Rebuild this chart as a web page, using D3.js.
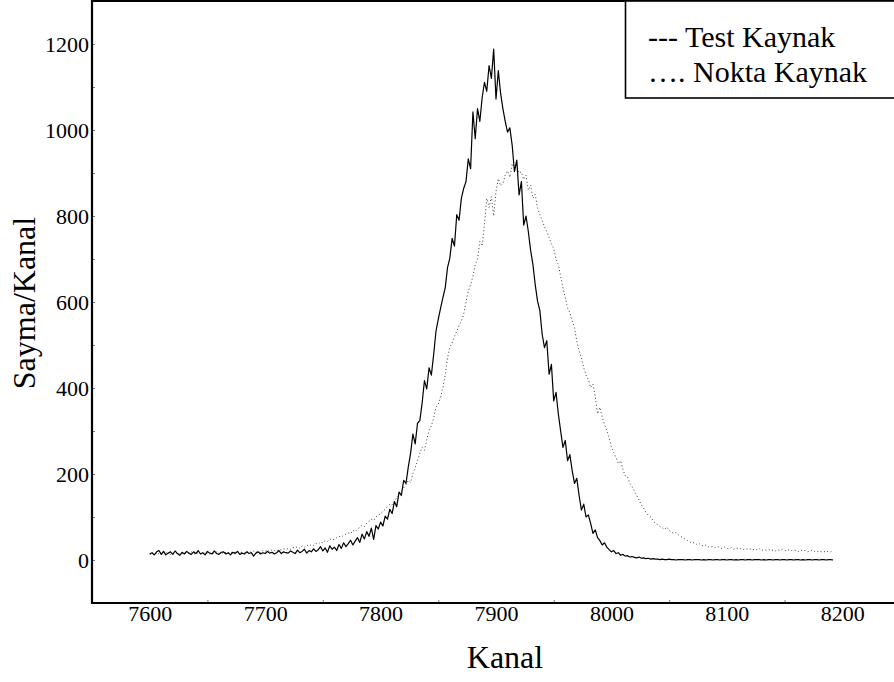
<!DOCTYPE html>
<html>
<head>
<meta charset="utf-8">
<script src="https://cdn.jsdelivr.net/npm/d3@7"></script>
<style>
  body { margin: 0; background: #fff; }
  text { font-family: "Liberation Serif", "Times New Roman", serif; fill: #000; }
</style>
</head>
<body>
<div class="chart"></div>
<script>
var svgWidth = 894;
var svgHeight = 682;

// channels 7600..8192, step 2
var chStart = 7600;
var chStep = 2;

// Test Kaynak (solid)
var testCounts = [
  14,17,12,19,22,13,20,12,16,19,
  13,21,15,11,18,14,20,16,13,19,
  15,22,14,17,12,20,16,14,21,15,
  13,18,19,14,17,12,18,15,20,13,
  16,14,19,15,17,9,16,19,14,17,
  15,20,16,18,14,17,22,15,19,17,
  16,21,18,15,23,17,20,25,16,22,
  19,26,20,24,31,21,28,18,33,25,
  30,22,36,27,40,31,38,46,35,44,
  52,41,60,49,66,55,74,48,80,72,
  88,79,102,95,118,108,136,124,158,150,
  185,178,216,248,293,270,318,324,365,417,
  398,447,430,478,532,560,586,610,633,680,
  702,748,730,803,790,841,864,880,933,910,
  1042,980,1050,1020,1075,1111,1090,1150,1120,1188,
  1072,1138,1085,1049,1020,995,1005,965,903,930,
  849,880,779,800,764,720,687,640,602,580,
  525,494,510,432,455,370,390,340,300,262,
  278,231,245,208,178,190,150,116,130,100,
  105,85,62,70,52,45,35,40,30,24,
  19,22,15,17,11,13,9,10,7,8,
  6,5,7,4,5,3,4,2,3,2,
  2,1,2,1,1,2,1,1,0,1,
  1,1,0,1,1,0,1,1,1,0,
  1,0,1,1,0,1,1,0,1,1,
  0,1,1,0,1,0,1,1,0,1,
  1,0,1,1,1,0,1,0,1,1,
  0,1,1,0,1,1,0,1,1,0,
  1,1,0,1,0,1,1,0,1,1,
  0,1,1,0,1,1,0
];

// Nokta Kaynak (dotted)
var noktaCounts = [
  13,15,11,17,14,16,12,18,15,13,
  16,14,18,13,15,17,14,16,19,15,
  14,17,15,13,18,16,14,17,15,19,
  16,14,18,17,15,19,16,18,20,17,
  18,16,20,17,19,21,18,20,17,22,
  20,23,19,24,22,21,25,23,26,24,
  27,25,29,28,31,27,33,30,35,32,
  36,34,39,37,42,40,45,43,49,47,
  48,52,55,53,58,60,63,61,69,66,
  72,76,81,78,86,90,95,92,100,104,
  108,113,118,124,130,128,137,145,152,160,
  168,175,185,180,201,215,230,248,262,255,
  280,301,312,330,355,362,380,401,430,470,
  494,505,520,532,545,556,571,600,625,640,
  660,687,700,741,730,780,841,820,845,800,
  857,887,870,876,895,905,890,922,910,918,
  900,903,885,895,860,872,841,850,818,803,
  790,775,764,750,735,725,700,687,660,633,
  610,586,575,556,540,509,486,470,447,430,
  420,401,409,380,340,355,332,315,301,285,
  262,250,238,224,231,210,195,193,178,170,
  160,150,139,128,120,110,104,100,92,85,
  82,78,75,71,77,69,65,62,64,58,
  55,52,48,45,42,39,41,36,38,34,
  33,35,31,30,32,29,31,28,27,30,
  27,26,29,25,27,28,26,24,27,25,
  26,23,25,24,27,22,24,23,25,22,
  23,21,24,22,25,23,21,24,22,23,
  22,20,23,21,22,19,21,23,20,19,
  21,19,20,18,21,19,22
];

var xTicks = [7600, 7700, 7800, 7900, 8000, 8100, 8200];
var xMinor = [7650, 7750, 7850, 7950, 8050, 8150, 8250];
var yTicks = [0, 200, 400, 600, 800, 1000, 1200];
var yMinor = [-100, 100, 300, 500, 700, 900, 1100, 1300];
var legendLabels = ['--- Test Kaynak', '\u2026. Nokta Kaynak'];

var plotLeft = 92, plotTop = 1, plotBottom = 603, plotRight = 900;

var svg = d3
  .select('.chart')
  .append('svg')
  .attr('width', svgWidth)
  .attr('height', svgHeight);

var xScale = d3.scaleLinear().domain([7550, 8250]).range([plotLeft, plotRight]);
var yScale = d3.scaleLinear().domain([-100, 1300]).range([plotBottom, plotTop]);

function toPoints(counts) {
  return counts.map(function(v, i) {
    return { ch: chStart + i * chStep, v: v };
  });
}

var line = d3.line()
  .x(function(d) { return xScale(d.ch); })
  .y(function(d) { return yScale(d.v); });

// dotted series first, solid on top
svg.append('path')
  .datum(toPoints(noktaCounts))
  .attr('d', line)
  .attr('fill', 'none')
  .attr('stroke', '#3a3a3a')
  .attr('stroke-width', 1)
  .attr('stroke-dasharray', '1,2.5');

svg.append('path')
  .datum(toPoints(testCounts))
  .attr('d', line)
  .attr('fill', 'none')
  .attr('stroke', '#000')
  .attr('stroke-width', 1.2)
  .attr('stroke-linejoin', 'round');

// axes
var fmt = d3.format('d');
var leftAxis = d3.axisLeft(yScale).tickValues(yTicks).tickFormat(fmt).tickSize(0).tickPadding(3);
var bottomAxis = d3.axisBottom(xScale).tickValues(xTicks).tickFormat(fmt).tickSize(0).tickPadding(2);

var gy = svg.append('g').attr('transform', 'translate(' + plotLeft + ',0)').call(leftAxis);
var gx = svg.append('g').attr('transform', 'translate(0,' + plotBottom + ')').call(bottomAxis);

[gy, gx].forEach(function(g) {
  g.selectAll('text').style('font-family', '"Liberation Serif", serif').style('font-size', '22px');
  g.select('.domain').remove();
});

// minor inward ticks
svg.append('g')
  .attr('transform', 'translate(' + plotLeft + ',0)')
  .call(d3.axisRight(yScale).tickValues(yMinor.concat(yTicks)).tickSize(3).tickFormat(''))
  .call(function(g) { g.select('.domain').remove(); g.selectAll('line').attr('stroke', '#777'); });

svg.append('g')
  .attr('transform', 'translate(0,' + plotBottom + ')')
  .call(d3.axisTop(xScale).tickValues(xMinor).tickSize(3).tickFormat(''))
  .call(function(g) { g.select('.domain').remove(); g.selectAll('line').attr('stroke', '#777'); });

// frame: left, bottom, top
svg.append('path')
  .attr('d', 'M' + (plotRight + 10) + ',' + plotTop + 'H' + plotLeft + 'V' + plotBottom + 'H' + (plotRight + 10))
  .attr('fill', 'none')
  .attr('stroke', '#000')
  .attr('stroke-width', 2.2);

// axis titles
svg.append('text')
  .attr('transform', 'translate(35,303) rotate(-90)')
  .attr('text-anchor', 'middle')
  .style('font-size', '32px')
  .text('Sayma/Kanal');

svg.append('text')
  .attr('x', 505)
  .attr('y', 668)
  .attr('text-anchor', 'middle')
  .style('font-size', '32px')
  .text('Kanal');

// legend box
var legend = svg.append('g');
legend.append('rect')
  .attr('x', 625.5)
  .attr('y', 1)
  .attr('width', 300)
  .attr('height', 97)
  .attr('fill', '#fff')
  .attr('stroke', '#000')
  .attr('stroke-width', 1.6);

legend.selectAll('.lg')
  .data(legendLabels)
  .enter()
  .append('text')
  .attr('class', 'lg')
  .attr('x', 648)
  .attr('y', function(d, i) { return 47 + i * 35; })
  .style('font-size', '30px')
  .text(function(d) { return d; });
</script>
</body>
</html>
